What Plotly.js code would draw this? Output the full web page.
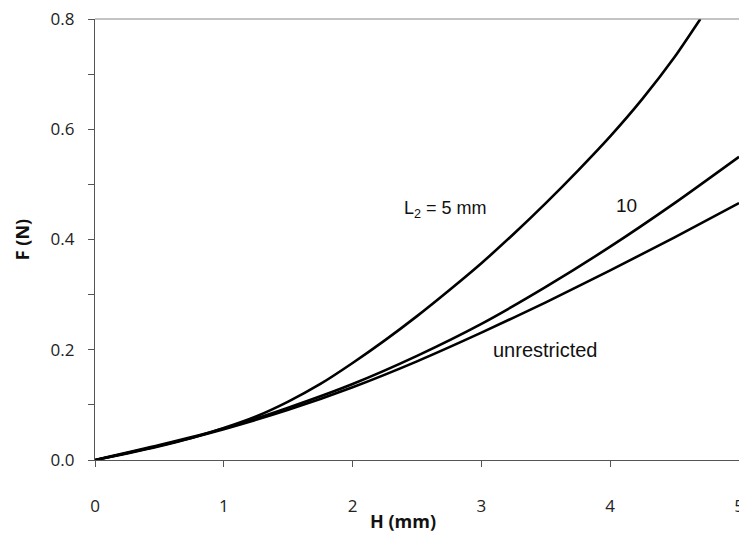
<!DOCTYPE html>
<html>
<head>
<meta charset="utf-8">
<script src="https://cdn.plot.ly/plotly-3.0.1.min.js"></script>
<style>
  html, body { margin: 0; padding: 0; background: #fff; }
  #chart { width: 739px; height: 537px; }
</style>
</head>
<body>
<div id="chart"></div>
<script>
// Force F (N) against displacement H (mm) for several lengths L2
const hL5 = [0, 0.25, 0.5, 0.75, 1, 1.25, 1.5, 1.75, 2, 2.25, 2.5, 2.75, 3, 3.25, 3.5, 3.75, 4, 4.25, 4.5, 4.7];
const fL5 = [0, 0.012, 0.025, 0.040, 0.058, 0.079, 0.106, 0.138, 0.176, 0.217, 0.261, 0.308, 0.357, 0.410, 0.466, 0.525, 0.587, 0.655, 0.731, 0.80];

const hL10 = [0, 0.5, 1, 1.5, 2, 2.5, 3, 3.5, 4, 4.5, 5];
const fL10 = [0, 0.027, 0.057, 0.095, 0.138, 0.189, 0.247, 0.314, 0.387, 0.466, 0.55];

const hFree = [0, 0.5, 1, 1.5, 2, 2.5, 3, 3.5, 4, 4.5, 5];
const fFree = [0, 0.026, 0.056, 0.091, 0.132, 0.179, 0.231, 0.286, 0.344, 0.404, 0.466];

const xTicks = [0, 1, 2, 3, 4, 5];
const yTicks = [0, 0.2, 0.4, 0.6, 0.8];

const curve = (x, y) => ({
  x: x, y: y, type: 'scatter', mode: 'lines',
  line: { color: '#000', width: 2.6, shape: 'spline', smoothing: 0.6 },
  hoverinfo: 'skip', showlegend: false, cliponaxis: true
});

const data = [curve(hL5, fL5), curve(hL10, fL10), curve(hFree, fFree)];

const tickFont = { family: 'Open Sans, sans-serif', size: 17, color: '#222' };
const titleFont = { family: 'Open Sans, sans-serif', size: 18, color: '#111', weight: 'bold' };
const noteFont = { family: 'Liberation Sans, Arial, sans-serif', size: 18, color: '#111' };

const layout = {
  width: 739, height: 537,
  margin: { l: 95, r: 0, t: 19, b: 77 },
  paper_bgcolor: '#fff', plot_bgcolor: '#fff',
  showlegend: false,
  xaxis: {
    range: [0, 5], tickvals: xTicks, ticktext: xTicks.map(String),
    ticks: 'outside', ticklen: 6, tickcolor: '#555', tickwidth: 1,
    ticklabelstandoff: 24, ticklabeloverflow: 'allow',
    showline: true, linecolor: '#555', linewidth: 1.2,
    showgrid: false, zeroline: false, tickfont: tickFont
  },
  yaxis: {
    range: [0, 0.8], tickvals: yTicks, tickformat: '.1f',
    ticks: 'outside', ticklen: 6, tickcolor: '#555', tickwidth: 1,
    ticklabelstandoff: 10,
    minor: { dtick: 0.1, ticks: 'outside', ticklen: 6, tickcolor: '#555', showgrid: false },
    showline: true, linecolor: '#555', linewidth: 1.2,
    showgrid: false, zeroline: false, tickfont: tickFont,
    title: { text: '<b>F (N)</b>', font: titleFont, standoff: 16 }
  },
  shapes: [
    { type: 'line', xref: 'paper', yref: 'paper', x0: 0, x1: 1, y0: 1, y1: 1,
      line: { color: '#888', width: 1.2 } }
  ],
  annotations: [
    { x: 0.478, y: 0, xref: 'paper', yref: 'paper', yanchor: 'middle', xanchor: 'center',
      text: '<b>H (mm)</b>', showarrow: false, font: titleFont },
    { x: 2.38, y: 0.455, xref: 'x', yref: 'y', xanchor: 'left', yanchor: 'middle',
      text: 'L<sub>2</sub> = 5 mm', showarrow: false, font: noteFont },
    { x: 4.13, y: 0.462, xref: 'x', yref: 'y', xanchor: 'center', yanchor: 'middle',
      text: '10', showarrow: false, font: { family: noteFont.family, size: 19, color: '#111' } },
    { x: 3.5, y: 0.2, xref: 'x', yref: 'y', xanchor: 'center', yanchor: 'middle',
      text: 'unrestricted', showarrow: false, font: { family: noteFont.family, size: 20, color: '#111' } }
  ]
};

// the x title sits below the tick labels, placed in pixel terms
layout.annotations[0].y = (537 - 521 - 77) / 441;

Plotly.newPlot('chart', data, layout, { displayModeBar: false, staticPlot: true });
</script>
</body>
</html>
